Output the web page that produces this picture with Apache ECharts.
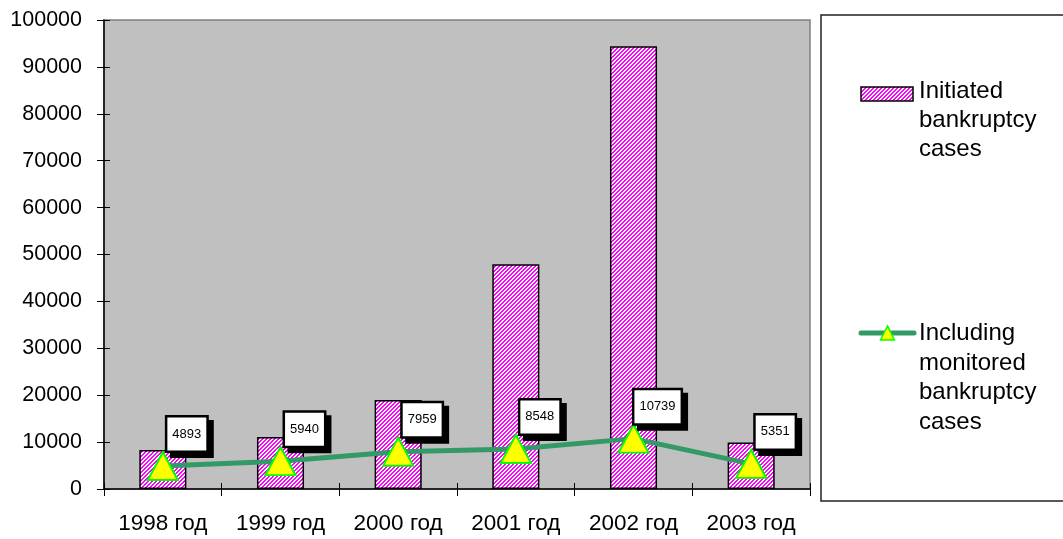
<!DOCTYPE html>
<html>
<head>
<meta charset="utf-8">
<script src="https://cdn.jsdelivr.net/npm/echarts@6/dist/echarts.min.js"></script>
<style>
  html, body { margin: 0; padding: 0; background: #fff; }
  #chart { width: 1063px; height: 539px; }
</style>
</head>
<body>
<div id="chart"></div>
<script>
// Bankruptcy cases per year
const categories = ['1998 год', '1999 год', '2000 год', '2001 год', '2002 год', '2003 год'];
const initiatedCases = [8300, 11100, 19000, 47900, 94400, 9900];
const monitoredCases = [4893, 5940, 7959, 8548, 10739, 5351];
const seriesNames = ['Initiated\nbankruptcy\ncases', 'Including\nmonitored\nbankruptcy\ncases'];
const yTicks = { min: 0, max: 100000, interval: 10000 };

const FONT = "'Liberation Sans', Arial, sans-serif";

// Magenta / white diagonal hatch used as the bar fill
function hatchCanvas() {
  const c = document.createElement('canvas');
  c.width = 4; c.height = 4;
  const ctx = c.getContext('2d');
  ctx.fillStyle = '#ffffff';
  ctx.fillRect(0, 0, 4, 4);
  ctx.fillStyle = '#ff00ff';
  for (let x = 0; x < 4; x++) {
    for (let y = 0; y < 4; y++) {
      if ((x + y) % 4 < 2) ctx.fillRect(x, y, 1, 1);
    }
  }
  return c;
}
const hatch = { image: hatchCanvas(), repeat: 'repeat' };

const chart = echarts.init(document.getElementById('chart'), null, { renderer: 'canvas' });

const grid = { left: 104, top: 20, width: 706, height: 469 };

const option = {
  animation: false,
  textStyle: { fontFamily: FONT },
  grid: Object.assign({
    show: true,
    backgroundColor: '#c0c0c0',
    borderColor: '#808080',
    borderWidth: 1.5
  }, grid),
  xAxis: [{
    type: 'category',
    data: categories,
    boundaryGap: true,
    axisLine: { lineStyle: { color: '#000', width: 1.5 } },
    axisTick: { show: true, interval: 0, length: 7, lineStyle: { color: '#000' } },
    axisLabel: { interval: 0, color: '#000', fontSize: 22.5, fontFamily: FONT, margin: 23 },
    splitLine: { show: false }
  }, {
    type: 'category',
    data: categories,
    position: 'bottom',
    boundaryGap: true,
    axisLine: { show: false },
    axisTick: { show: true, interval: 0, inside: true, length: 6, lineStyle: { color: '#000' } },
    axisLabel: { show: false },
    splitLine: { show: false }
  }],
  yAxis: [{
    type: 'value',
    min: yTicks.min,
    max: yTicks.max,
    interval: yTicks.interval,
    axisLine: { show: true, lineStyle: { color: '#000', width: 1.5 } },
    axisTick: { show: true, length: 7, lineStyle: { color: '#000' } },
    axisLabel: { color: '#000', fontSize: 21.5, fontFamily: FONT, margin: 22,
                 formatter: v => String(v) },
    splitLine: { show: false }
  }, {
    type: 'value',
    position: 'left',
    min: yTicks.min,
    max: yTicks.max,
    interval: yTicks.interval,
    axisLine: { show: false },
    axisTick: { show: true, inside: true, length: 6, lineStyle: { color: '#000' } },
    axisLabel: { show: false },
    splitLine: { show: false }
  }],
  series: [{
    name: seriesNames[0],
    type: 'bar',
    data: initiatedCases,
    barWidth: '40%',
    itemStyle: { color: hatch, borderColor: '#000', borderWidth: 1.5 },
    z: 2
  }, {
    name: seriesNames[1],
    type: 'line',
    data: monitoredCases,
    symbol: 'triangle',
    symbolSize: [30, 28],
    lineStyle: { color: '#339966', width: 5 },
    itemStyle: { color: '#ffff00', borderColor: '#00ff00', borderWidth: 2 },
    label: {
      show: true,
      position: 'inside',
      offset: [24, -32],
      color: '#000',
      fontSize: 13,
      fontFamily: FONT,
      backgroundColor: '#fff',
      borderColor: '#000',
      borderWidth: 2.5,
      padding: [10, 5],
      shadowColor: '#000',
      shadowOffsetX: 5,
      shadowOffsetY: 5,
      shadowBlur: 0
    },
    z: 3
  }],
  graphic: [
    // legend frame
    { type: 'rect', shape: { x: 821, y: 15, width: 260, height: 486 },
      style: { fill: '#fff', stroke: '#222', lineWidth: 1.5 }, z: 0 },
    // bar legend entry
    { type: 'rect', shape: { x: 861, y: 87, width: 52, height: 14 },
      style: { fill: hatch, stroke: '#000', lineWidth: 1.5 }, z: 1 },
    { type: 'text', x: 919, y: 77,
      style: { text: seriesNames[0], font: '24px ' + FONT, fill: '#000', lineHeight: 29 }, z: 1 },
    // line legend entry
    { type: 'line', shape: { x1: 861, y1: 333, x2: 914, y2: 333 },
      style: { stroke: '#339966', lineWidth: 5, lineCap: 'round' }, z: 1 },
    { type: 'polygon', shape: { points: [[887.5, 326], [880.5, 340], [894.5, 340]] },
      style: { fill: '#ffff00', stroke: '#00ff00', lineWidth: 1.5 }, z: 2 },
    { type: 'text', x: 919, y: 319,
      style: { text: seriesNames[1], font: '24px ' + FONT, fill: '#000', lineHeight: 29.5 }, z: 1 }
  ]
};

chart.setOption(option);
</script>
</body>
</html>
